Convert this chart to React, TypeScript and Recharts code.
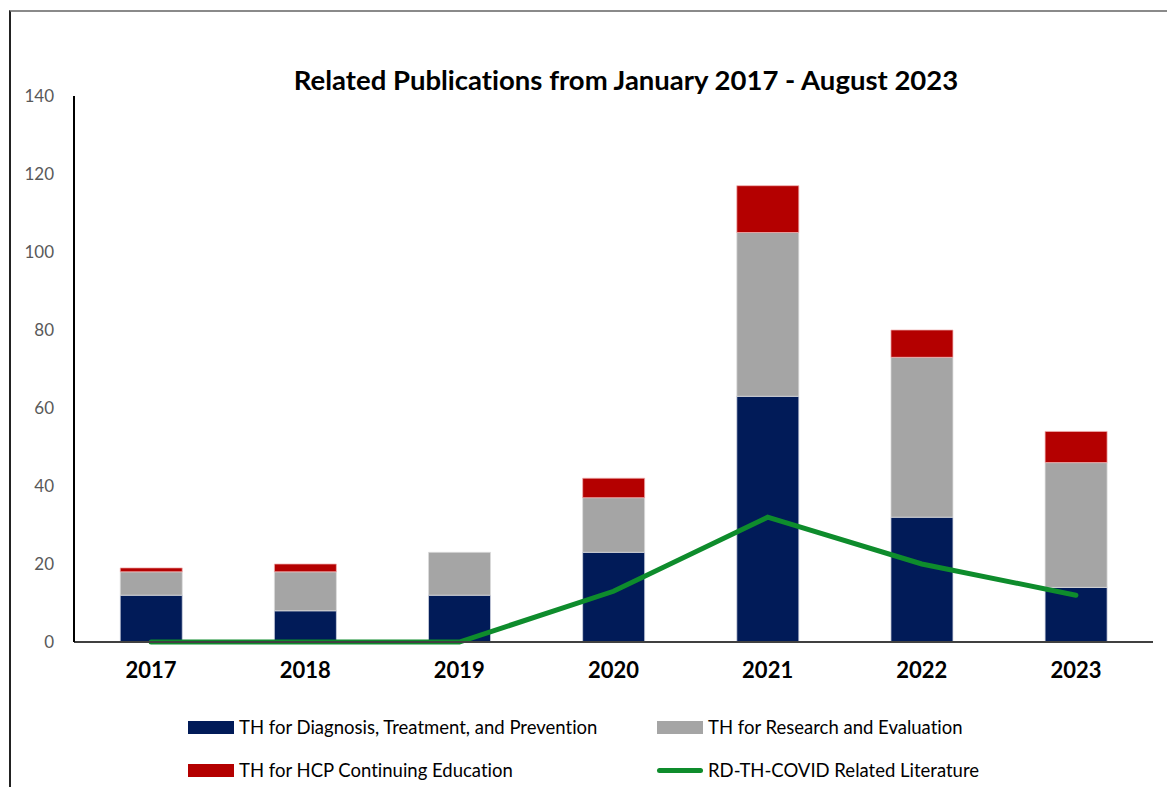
import { ComposedChart, Bar, Line, XAxis, YAxis } from "recharts";

const years = ["2017", "2018", "2019", "2020", "2021", "2022", "2023"];
const diagnosis = [12, 8, 12, 23, 63, 32, 14];
const research = [6, 10, 11, 14, 42, 41, 32];
const education = [1, 2, 0, 5, 12, 7, 8];
const covid = [0, 0, 0, 13, 32, 20, 12];
const yTicks = [0, 20, 40, 60, 80, 100, 120, 140];

const data = years.map((year, i) => ({
  year,
  diagnosis: diagnosis[i],
  research: research[i],
  education: education[i],
  covid: covid[i],
}));

const FONT = "Lato, 'Open Sans', sans-serif";

const legendItems = [
  { label: "TH for Diagnosis, Treatment, and Prevention", color: "#011b58", line: false },
  { label: "TH for Research and Evaluation", color: "#a5a5a5", line: false },
  { label: "TH for HCP Continuing Education", color: "#b40000", line: false },
  { label: "RD-TH-COVID Related Literature", color: "#0e8c2c", line: true },
];

export default function App() {
  return (
    <div
      style={{
        position: "absolute",
        left: 0,
        top: 0,
        width: 1167,
        height: 787,
        overflow: "hidden",
        background: "#fff",
        fontFamily: FONT,
        fontVariantLigatures: "none",
      }}
    >
      <div
        style={{
          position: "absolute",
          left: 9,
          top: 10,
          width: 1200,
          height: 800,
          borderLeft: "2px solid #222",
          borderTop: "2px solid #8a8a8a",
        }}
      />
      <div
        style={{
          position: "absolute",
          left: 0,
          width: 1252,
          top: 63,
          textAlign: "center",
          fontSize: 27.5,
          fontWeight: 700,
          color: "#000",
        }}
      >
        Related Publications from January 2017 - August 2023
      </div>
      <ComposedChart
        width={1167}
        height={787}
        data={data}
        margin={{ top: 96, right: 14, bottom: 105, left: 14 }}
        barCategoryGap="30%"
      >
        <XAxis
          dataKey="year"
          height={40}
          axisLine={{ stroke: "#404040", strokeWidth: 2 }}
          tickLine={false}
          tick={{ fill: "#000", fontSize: 22, fontWeight: 700, fontFamily: FONT }}
          tickMargin={14}
        />
        <YAxis
          width={60}
          domain={[0, 140]}
          ticks={yTicks}
          axisLine={{ stroke: "#000", strokeWidth: 2 }}
          tickLine={false}
          tick={{ fill: "#595959", fontSize: 17, fontFamily: FONT }}
          tickMargin={14}
        />
        <Bar dataKey="diagnosis" stackId="a" fill="#011b58" stroke="#d0d4e0" strokeWidth={0.75} isAnimationActive={false} />
        <Bar dataKey="research" stackId="a" fill="#a5a5a5" stroke="#dcdcdc" strokeWidth={0.75} isAnimationActive={false} />
        <Bar dataKey="education" stackId="a" fill="#b40000" stroke="#f0b0b0" strokeWidth={0.75} isAnimationActive={false} />
        <Line
          dataKey="covid"
          stroke="#0e8c2c"
          strokeWidth={5}
          dot={false}
          type="linear"
          strokeLinecap="round"
          isAnimationActive={false}
        />
      </ComposedChart>
      <div
        style={{
          position: "absolute",
          left: 188,
          top: 714,
          display: "grid",
          gridTemplateColumns: "469px 400px",
          rowGap: 17,
          fontSize: 18.5,
          color: "#000",
        }}
      >
        {legendItems.map((item) => (
          <div key={item.label} style={{ display: "flex", alignItems: "center", height: 26 }}>
            <span
              style={{
                display: "inline-block",
                width: 46,
                height: item.line ? 5 : 13,
                borderRadius: item.line ? 3 : 0,
                background: item.color,
                marginRight: 5,
              }}
            />
            <span>{item.label}</span>
          </div>
        ))}
      </div>
    </div>
  );
}
